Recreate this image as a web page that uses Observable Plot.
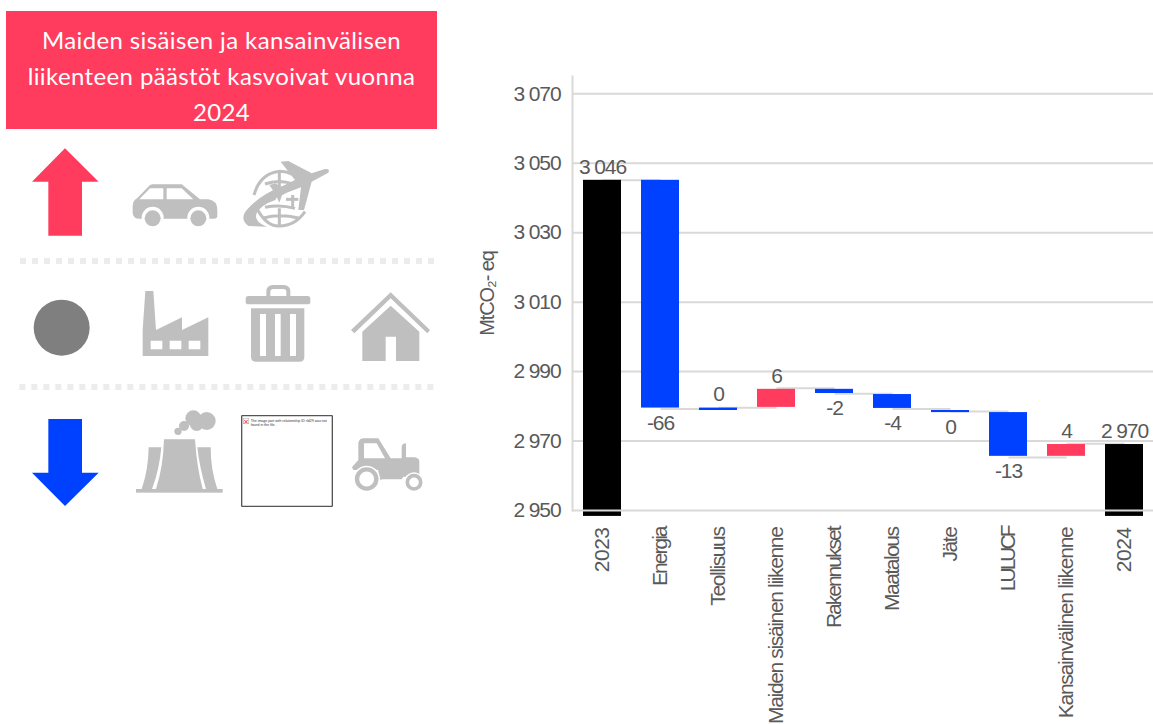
<!DOCTYPE html>
<html lang="fi">
<head>
<meta charset="utf-8">
<script src="https://cdn.jsdelivr.net/npm/d3@7"></script>
<script src="https://cdn.jsdelivr.net/npm/@observablehq/plot@0.6"></script>
<style>
  html, body { margin: 0; padding: 0; background: #fff; overflow: hidden; }
  #page { position: relative; width: 1153px; height: 724px; overflow: hidden; }
  #banner { position: absolute; left: 6px; top: 11px; width: 431px; height: 118px; background: #ff3b5e; color: #fff;
    font: 24px/36px Lato, "Open Sans", sans-serif; text-align: center; padding-top: 11px; box-sizing: border-box; letter-spacing: .38px; }
  #icons { position: absolute; left: 0; top: 130px; }
  #chart { position: absolute; left: 470px; top: 70px; }
  #chart svg { overflow: visible; }
</style>
</head>
<body>
<div id="page">
  <div id="banner">Maiden sisäisen ja kansainvälisen<br>liikenteen päästöt kasvoivat vuonna<br>2024</div>
  <svg id="icons" width="450" height="390" viewBox="0 0 1350 1170">
    <path d="M195 55L296 155H246V317H145V155H96Z" fill="#ff3b5e"/>
    <path d="M145 867H246V1028H296L195 1128L96 1028H145Z" fill="#0041ff"/>
    <circle cx="185" cy="593" r="84" fill="#7f7f7f"/>
    <line x1="60" x2="1305" y1="393" y2="393" stroke="#ececec" stroke-width="18" stroke-dasharray="18 18"/>
    <line x1="58" x2="1303" y1="771" y2="771" stroke="#ececec" stroke-width="18" stroke-dasharray="18 18"/>
    <g fill="#bfbfbf">
      <!-- car -->
      <path d="M398 228Q398 212 412 204L447 168Q450 163 458 163H545L600 208H625Q652 212 652 240V258Q652 266 640 266H420Q398 266 398 248Z"/>
      <path fill="#fff" d="M418 208L450 175H490V208ZM500 175H545L580 208H500Z"/>
      <circle cx="458" cy="263" r="33" fill="#fff"/><circle cx="595" cy="263" r="33" fill="#fff"/>
      <circle cx="458" cy="265" r="24"/><circle cx="595" cy="265" r="24"/>
      <!-- globe and plane -->
      <g fill="none" stroke="#bfbfbf" stroke-width="9">
        <path d="M762 195Q780 130 840 124Q880 124 905 160"/>
        <path d="M838 124V175M795 162Q840 145 885 165"/>
        <path d="M772 238Q800 290 838 288Q885 288 915 245"/>
        <path d="M838 235V288M795 232Q840 222 885 235M790 264Q840 250 895 264M878 195V235"/>
        <path d="M858 208H895"/>
      </g>
      <path d="M745 288Q715 265 745 235Q780 195 848 168L826 210Q782 225 770 250Q760 275 800 290Z"/>
      <path d="M842 95L865 93L935 130L975 117Q992 116 985 128L935 155L912 240L895 240L903 172L860 188L846 196L838 218L825 190L808 165L828 160L840 172L885 150Z"/>
      <!-- factory -->
      <path d="M428 678V600L436 483H460L468 600L546 562V600L625 562V678Z"/>
      <path fill="#fff" d="M452 632h35v26h-35zM509 632h35v26h-35zM566 632h35v26h-35z"/>
      <!-- trash -->
      <path fill="none" stroke="#bfbfbf" stroke-width="12" d="M805 498V485Q805 471 820 471H850Q865 471 865 485V498"/>
      <rect x="737" y="498" width="194" height="25" rx="8"/>
      <path d="M753 535H913V680Q913 695 898 695H768Q753 695 753 680Z"/>
      <path fill="#fff" d="M780 552h18v126h-18zM825 552h17v126h-17zM870 552h18v126h-18z"/>
      <!-- house -->
      <path d="M1053 600L1172 487L1290 600L1282 610L1172 505L1063 610Z"/>
      <path d="M1087 693V605L1172 527L1258 605V693H1188V620H1157V693Z"/>
      <!-- cooling towers -->
      <rect x="408" y="1077" width="260" height="11"/>
      <path d="M492 928H585Q590 1010 608 1077H468Q490 1010 492 928Z"/>
      <path d="M446 952H484Q478 1020 456 1077H425Q445 1020 446 952Z"/>
      <path d="M592 952H632Q632 1020 652 1077H618Q598 1010 592 952Z"/>
      <circle cx="534" cy="904" r="11"/><circle cx="552" cy="888" r="15"/><circle cx="580" cy="865" r="24"/><circle cx="620" cy="873" r="27"/><circle cx="590" cy="883" r="20"/>
      <!-- tractor -->
      <path d="M1075 990V938Q1078 925 1092 925H1135L1172 985H1205V950Q1207 940 1218 940V982H1245Q1258 985 1258 995V1040H1210L1205 1048H1150L1135 1050L1135 1020H1060L1056 1012L1075 990Z"/>
      <path fill="#fff" d="M1092 940H1130L1155 985H1092Z"/>
      <circle cx="1100" cy="1047" r="40" fill="#fff"/><circle cx="1100" cy="1047" r="29" fill="none" stroke="#bfbfbf" stroke-width="13"/>
      <circle cx="1242" cy="1057" r="30" fill="#fff"/><circle cx="1242" cy="1057" r="20" fill="none" stroke="#bfbfbf" stroke-width="11"/>
    </g>
    <!-- missing picture placeholder -->
    <rect x="725" y="857" width="272" height="272" fill="#fff" stroke="#555" stroke-width="4" rx="2"/>
    <rect x="730" y="865" width="16" height="16" fill="#fff" stroke="#bbb" stroke-width="2"/>
    <path d="M733 870L743 880M743 870L733 880" stroke="#e33" stroke-width="3"/>
    <text x="752" y="875" font-family="Liberation Sans" font-size="10.5" fill="#333">The image part with relationship ID rId29 was not</text>
    <text x="752" y="887" font-family="Liberation Sans" font-size="10.5" fill="#333">found in the file.</text>
  </svg>
  <div id="chart"></div>
</div>
<script>
const categories = ["2023","Energia","Teollisuus","Maiden sisäinen liikenne","Rakennukset","Maatalous","Jäte","LULUCF","Kansainvälinen liikenne","2024"];
const barFrom = [2948.3, 3045.1, 2979.5, 2979.7, 2984.9, 2983.4, 2978.8, 2978.2, 2965.6, 2948.3];
const barTo   = [3045.1, 2979.5, 2978.8, 2984.9, 2983.7, 2979.4, 2978.2, 2965.6, 2969.0, 2969.0];
const kinds   = ["total","down","down","up","down","down","down","down","up","total"];
const labels  = ["3 046","-66","0","6","-2","-4","0","-13","4","2 970"];
const labelAbove = [true,false,true,true,false,false,false,false,true,true];
const connectorY = [3045.1, 2979.2, 2979.6, 2985.2, 2983.6, 2979.2, 2978.5, 2965.3, 2969.2];
const yTicks = [2950,2970,2990,3010,3030,3050,3070];

const rows = categories.map((c,i)=>({c, from:barFrom[i], to:barTo[i], kind:kinds[i], label:labels[i], above:labelAbove[i]}));
const links = connectorY.map((y,i)=>({a:categories[i], b:categories[i+1], y}));
const spaced = v => String(v).replace(/(\d)(\d{3})$/, "$1 $2");
const grey = "#d9d9d9", ink = "#595959";
const low = r => Math.min(r.from, r.to), high = r => Math.max(r.from, r.to);

const chart = Plot.plot({
  width: 683, height: 654,
  marginLeft: 102, marginRight: 0, marginTop: 6, marginBottom: 214,
  style: {background: "transparent", fontFamily: "Liberation Sans", fontSize: "21px", color: ink},
  x: {domain: categories, paddingInner: 0.345, paddingOuter: 0.1725, label: null},
  y: {domain: [2950, 3075], label: null},
  color: {domain: ["total","down","up"], range: ["#000000","#0041ff","#ff3b5e"]},
  marks: [
    Plot.gridY(yTicks.slice(1), {stroke: grey, strokeOpacity: 1, strokeWidth: 2}),
    Plot.frame({anchor: "left", stroke: grey, strokeWidth: 2}),
    Plot.link(links, {x1: "a", x2: "b", y1: "y", y2: "y", stroke: grey, strokeWidth: 2}),
    Plot.barY(rows, {x: "c", y1: "from", y2: "to", fill: "kind"}),
    Plot.gridY(yTicks.slice(0,1), {stroke: grey, strokeOpacity: 1, strokeWidth: 2}),
    Plot.axisY({ticks: yTicks, tickFormat: spaced, tickSize: 0, tickPadding: 12, label: null, fontSize: 21, fill: ink}),
    Plot.axisX({tickRotate: -90, tickSize: 0, tickPadding: 17, label: null, fontSize: 21, fill: ink}),
    Plot.text(rows.filter(r=>r.above), {x: "c", y: high, text: "label", dy: -13.5, fontSize: 21, fill: ink}),
    Plot.text(rows.filter(r=>!r.above), {x: "c", y: low, text: "label", dy: 15, fontSize: 21, fill: ink}),
    Plot.text(["MtCO₂- eq"], {frameAnchor: "left", y: () => 3012.5, text: d => d, rotate: -90, dx: -85, fontSize: 20, fill: ink, textAnchor: "middle"})
  ]
});
// The reference's text is tightly tracked; each axis label gets its own squeeze.
const tracking = {"2023":-0.5,"2024":-0.5,"Energia":-2,"Teollisuus":-1.4,"Maiden sisäinen liikenne":-1.35,"Rakennukset":-2,"Maatalous":-1.5,"Jäte":-1.4,"LULUCF":-3,"Kansainvälinen liikenne":-1.25};
d3.select(chart).selectAll("text").style("letter-spacing", "-1.1px");
d3.select(chart).selectAll('[aria-label="x-axis tick label"] text').style("letter-spacing", function(){
  return (tracking[this.textContent] ?? -1) + "px";
});
document.getElementById("chart").append(chart);
</script>
</body>
</html>
